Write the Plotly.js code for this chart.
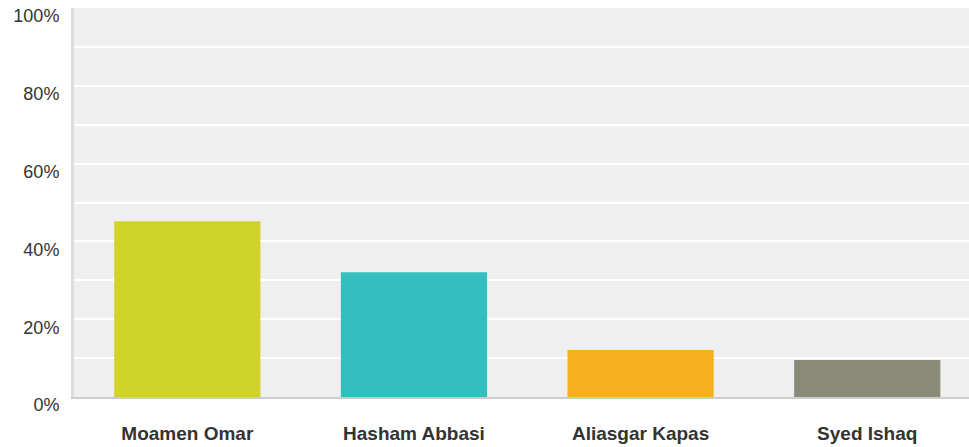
<!DOCTYPE html>
<html>
<head>
<meta charset="utf-8">
<script src="https://cdn.plot.ly/plotly-3.0.1.min.js"></script>
<style>html,body{margin:0;padding:0;overflow:hidden;background:#fff}</style>
</head>
<body>
<div id="chart" style="width:969px;height:447px"></div>
<script>
const categories = ["Moamen Omar", "Hasham Abbasi", "Aliasgar Kapas", "Syed Ishaq"];
const values = [45.2, 32.1, 12.1, 9.5];
const colors = ["#d0d42a", "#34bec0", "#f6b01f", "#898a78"];
const yTickVals = [0, 20, 40, 60, 80, 100];
const yTickText = ["0%", "20%", "40%", "60%", "80%", "100%"];

Plotly.newPlot("chart", [{
  type: "bar",
  x: categories,
  y: values,
  marker: {color: colors},
  width: 0.645,
  hoverinfo: "none"
}], {
  width: 969, height: 447,
  margin: {l: 74, r: 0, t: 8, b: 50},
  paper_bgcolor: "#ffffff",
  plot_bgcolor: "#efefef",
  showlegend: false,
  xaxis: {
    range: [-0.5, 3.449],
    showgrid: false,
    zeroline: false,
    showline: true, linecolor: "#cccccc", linewidth: 2,
    ticks: "",
    ticklabelstandoff: 18,
    tickfont: {family: "Liberation Sans, Arial, sans-serif", size: 19, color: "#333333", weight: "bold"}
  },
  yaxis: {
    range: [0, 100],
    tickvals: yTickVals,
    ticktext: yTickText,
    showgrid: true, gridcolor: "#ffffff", gridwidth: 2,
    minor: {dtick: 10, showgrid: true, gridcolor: "#ffffff", gridwidth: 2},
    zeroline: false,
    showline: true, linecolor: "#dddddd", linewidth: 3,
    ticks: "",
    ticklabelstandoff: 8,
    ticklabelshift: 8,
    tickfont: {family: "Liberation Sans, Arial, sans-serif", size: 18, color: "#333333"}
  }
}, {displayModeBar: false, staticPlot: true});
</script>
</body>
</html>
